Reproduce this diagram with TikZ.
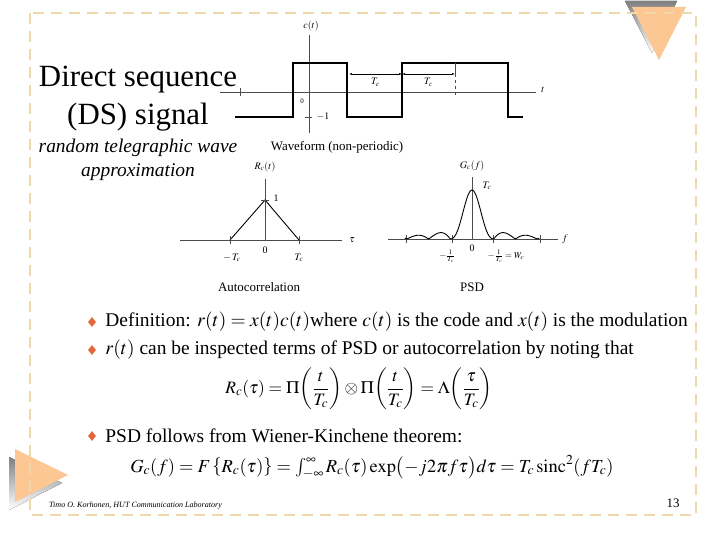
\documentclass[tikz,border=0pt]{standalone}
\usepackage{amsmath}
\usepackage{mathptmx}
\usepackage{fontspec}
\setmainfont{Liberation Serif}
\usepackage{tikz}
\usetikzlibrary{arrows.meta,positioning,calc,shapes.geometric}
\definecolor{peach}{HTML}{FDC794}
\definecolor{shade}{HTML}{ADADAD}
\definecolor{framec}{HTML}{EFD8AC}
\definecolor{bull}{HTML}{E5673A}

\begin{document}
\begin{tikzpicture}[x=1bp,y=-1bp,
  ax/.style={line width=0.5pt,gray!60!black},
  sg/.style={line width=1.1pt},
  dm/.style={line width=0.5pt,{Latex[length=3pt,width=2pt]}-{Latex[length=3pt,width=2pt]}},
  lb/.style={font=\fontsize{10}{12}\selectfont,inner sep=1pt},
  cp/.style={font=\fontsize{13}{15}\selectfont},
  tx/.style={font=\fontsize{19.5}{23}\selectfont,anchor=west,inner sep=0pt},
  bl/.style={diamond,fill=bull,inner sep=0pt,minimum width=8bp,minimum height=10bp}
]
\useasboundingbox (0,0) rectangle (720,540);
\fill[white] (0,0) rectangle (720,540);
%--- corner triangles and frame ---
\fill[shade] (625,1) -- (677,1) -- (652,53) -- cycle;
\fill[peach] (632,7) -- (686,7) -- (659,60) -- cycle;
\fill[shade] (9,457) -- (9,510) -- (62,483) -- cycle;
\fill[peach] (15,449) -- (15,502) -- (68,475) -- cycle;
\draw[framec,line width=1.6bp,dash pattern=on 11bp off 7bp] (30,13) rectangle (696,515);
%--- title ---
\node[font=\fontsize{31}{38}\selectfont,align=center] (ttl) at (138,99) {Direct sequence\\(DS) signal};
\node[font=\itshape\fontsize{19.5}{24}\selectfont,align=center] (sub) at (138,160) {random telegraphic wave\\approximation};
%--- c(t) waveform ---
\draw[ax] (220,92) -- (536,92);
\draw[ax] (240,88) -- (240,96);
\draw[ax] (309,35) -- (309,133);
\draw[ax] (305,117) -- (312,117);
\node[lb] (ct) at (311,26) {$c(t)$};
\node[lb] (ta) at (543,90) {$t$};
\node[lb,font=\fontsize{7}{8}\selectfont] (z0) at (302,101) {0};
\node[lb] (m1) at (323,117) {$-1$};
\draw[sg] (235,117) -- (293,117) -- (293,63) -- (347,63) -- (347,117) -- (402,117)
  -- (402,63) -- (508,63) -- (508,117) -- (523,117);
\coordinate (d0) at (349,74);
\coordinate (d1) at (402,74);
\coordinate (d2) at (455,74);
\draw[dm] (d0) -- (d1);
\draw[dm] (d1) -- (d2);
\node[lb,below=3bp of $(d0)!0.5!(d1)$] (tc1) {$T_c$};
\node[lb,below=3bp of $(d1)!0.5!(d2)$] (tc2) {$T_c$};
\draw[ax] (455,63) -- (d2);
\draw[ax,dashed] (d2) -- (455,96);
\node[cp] (wf) at (337,147) {Waveform (non-periodic)};
%--- autocorrelation ---
\draw[ax] (180,240) -- (342,240);
\draw[ax] (265,179) -- (265,240);
\draw[line width=0.9pt] (230,240) -- (265,200) -- (299,240);
\draw[ax] (230,236) -- (230,244);
\draw[ax] (299,236) -- (299,244);
\draw[ax] (261,200) -- (269,200);
\node[lb] (rc) at (265,167) {$R_c(t)$};
\node[lb] (one) at (276,198) {1};
\node[lb] (tau) at (352,240) {$\tau$};
\node[lb] (mtc) at (232,258) {$-\,T_c$};
\node[lb] (zr) at (265,250) {0};
\node[lb] (ptc) at (299,258) {$T_c$};
\node[cp] (ac) at (259,287) {Autocorrelation};
%--- PSD ---
\draw[ax] (388,239) -- (558,239);
\draw[ax] (472,177) -- (472,239);
\foreach \k in {406,452,493,540}
  \draw[ax] (\k,235) -- (\k,243);
\draw[line width=0.9pt,smooth,samples=160,domain=-3.1:3.1]
  plot ({472+21.7*\x},{239-49*ifthenelse(abs(\x)<1,
    (sin(180*(\x+0.0001))/(pi*(\x+0.0001)))^2,
    0.6*abs(sin(180*\x)/(pi*\x)))});
\node[lb] (gc) at (472,166) {$G_c(f)$};
\node[lb] (pk) at (487,186) {$T_c$};
\node[lb] (fa) at (565,239) {$f$};
\node[lb] (z1) at (472,248) {0};
\node[lb,font=\fontsize{9}{10}\selectfont] (nf) at (447,256) {$-\frac{1}{T_c}$};
\node[lb,font=\fontsize{9}{10}\selectfont] (wc) at (506,256) {$-\frac{1}{T_c}=W_c$};
\node[cp] (psd) at (472,287) {PSD};
%--- bullets ---
\node[bl] (b1) at (92,322) {};
\node[bl] (b2) at (92,350) {};
\node[bl] (b3) at (92,436) {};
\node[tx,right=9bp of b1] (t1) {Definition: $r(t)=x(t)c(t)$where $c(t)$ is the code and $x(t)$ is the modulation};
\node[tx,right=9bp of b2] (t2) {$r(t)$ can be inspected terms of PSD or autocorrelation by noting that};
\node[tx,right=9bp of b3] (t3) {PSD follows from Wiener-Kinchene theorem:};
\node[font=\fontsize{17.5}{21}\selectfont,inner sep=0pt] (eq1) at (359,389)
  {$R_c(\tau)=\Pi\biggl(\dfrac{t}{T_c}\biggr)\otimes\Pi\biggl(\dfrac{t}{T_c}\biggr)=\Lambda\biggl(\dfrac{\tau}{T_c}\biggr)$};
\node[font=\fontsize{18.5}{22}\selectfont,inner sep=0pt] (eq2) at (372,467)
  {$G_c(f)=F\left\{R_c(\tau)\right\}=\int_{-\infty}^{\infty}R_c(\tau)\exp\bigl(-j2\pi f\tau\bigr)d\tau=T_c\,\mathrm{sinc}^2(fT_c)$};
%--- footer ---
\node[font=\itshape\fontsize{8.1}{9}\selectfont,anchor=west,inner sep=0pt] (ft) at (49,506) {Timo O. Korhonen, HUT Communication Laboratory};
\node[cp] (pg) at (673,503) {13};
\end{tikzpicture}
\end{document}
